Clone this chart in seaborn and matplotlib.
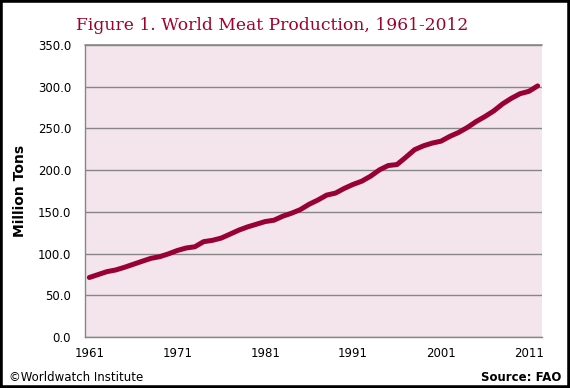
import numpy as np
import pandas as pd
import seaborn as sns
import matplotlib.pyplot as plt
from matplotlib.patches import Rectangle

# World meat production, million tons
years = list(range(1961, 2013))
production = [71.5, 75.0, 78.5, 80.5, 83.7, 87.3, 90.9, 94.4, 96.4, 99.8,
              103.8, 106.8, 108.3, 114.4, 116.0, 118.7, 123.4, 128.2, 132.1, 135.3,
              138.5, 140.1, 144.9, 148.5, 152.8, 159.2, 164.3, 170.2, 172.6, 178.2,
              183.0, 186.9, 192.9, 200.4, 205.6, 206.8, 215.5, 224.6, 229.2, 232.5,
              234.8, 240.5, 245.2, 251.2, 258.3, 264.3, 271.0, 279.4, 286.1, 291.7,
              294.5, 301.0]
xtick_years = [1961, 1971, 1981, 1991, 2001, 2011]
yticks = [0, 50, 100, 150, 200, 250, 300, 350]

df = pd.DataFrame({'year': years, 'tons': production})

sns.set_style('white')

fig = plt.figure(figsize=(5.7, 3.88), dpi=100)
ax = fig.add_axes([0.149, 0.131, 0.802, 0.753])
ax.set_facecolor('#F3E5EB')

sns.lineplot(data=df, x='year', y='tons', color='#990033', linewidth=3.6,
             solid_capstyle='round', ax=ax)

ax.set_xlim(1960.5, 2012.5)
ax.set_ylim(0, 350)
ax.set_yticks(yticks)
ax.set_yticklabels([f'{v:.1f}' for v in yticks], fontsize=8.5, color='black')
ax.set_xticks(xtick_years)
ax.set_xticklabels([str(y) for y in xtick_years], fontsize=8.5, color='black')
ax.set_xticks(np.arange(1960.5, 2013, 1), minor=True)
ax.tick_params(axis='x', which='major', length=0, pad=7)
ax.tick_params(axis='x', which='minor', length=4, color='#868686', width=0.8)
ax.tick_params(axis='y', length=4, color='#868686', width=0.8, pad=6)

ax.grid(axis='y', color='#868686', linewidth=1.0)
ax.set_axisbelow(True)
for side in ['top', 'right']:
    ax.spines[side].set_visible(False)
for side in ['left', 'bottom']:
    ax.spines[side].set_color('#868686')
    ax.spines[side].set_linewidth(1.0)
# top gridline at 350
ax.axhline(350, color='#868686', linewidth=1.2, clip_on=False)

ax.set_xlabel('')
ax.set_ylabel('Million Tons', fontsize=10, fontweight='bold', labelpad=8, color='black')

fig.text(0.477, 0.935, 'Figure 1. World Meat Production, 1961-2012',
         ha='center', va='center', fontsize=12.3, color='#A0002A',
         family='DejaVu Serif')
fig.text(0.016, 0.028, '\u00a9Worldwatch Institute', ha='left', va='center',
         fontsize=8.5, color='black')
fig.text(0.984, 0.028, 'Source: FAO', ha='right', va='center', fontsize=8.5,
         fontweight='bold', color='black')

fig.patches.append(Rectangle((0, 0), 1, 1, transform=fig.transFigure,
                             fill=False, edgecolor='black', linewidth=4))

fig.savefig('out.png', dpi=100)
